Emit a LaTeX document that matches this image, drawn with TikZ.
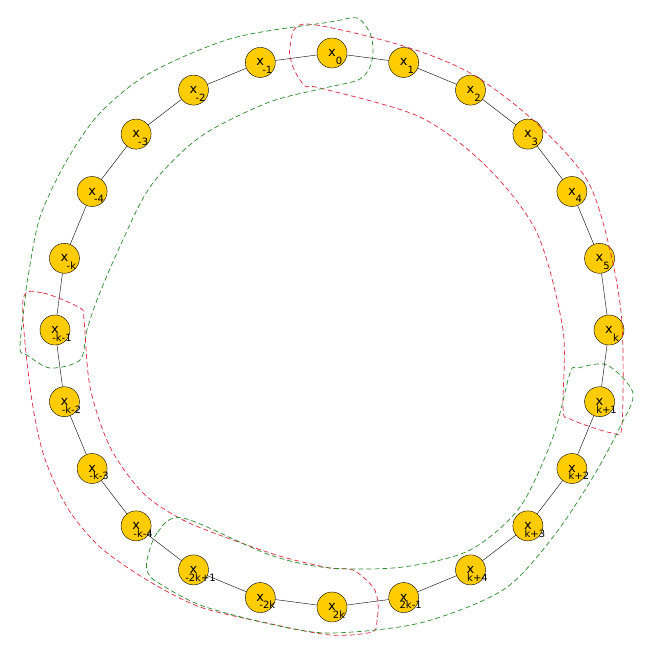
\documentclass[tikz,border=0pt]{standalone}
\usepackage{fontspec}
\setmainfont{DejaVu Sans}
\usepackage{xcolor}
\usetikzlibrary{positioning}
\definecolor{gold}{RGB}{255,204,0}
\definecolor{hullred}{RGB}{225,40,60}
\definecolor{hullgreen}{RGB}{40,140,40}
\newcommand{\xsub}[1]{\makebox[0pt]{x}\raisebox{-0.6em}[0pt][0pt]{\makebox[0pt]{\hspace{14pt}\fontsize{10}{10}\selectfont #1}}}

\begin{document}
\begin{tikzpicture}[x=1pt,y=-1pt,v/.style={circle,draw,fill=gold,minimum size=30pt,inner sep=0pt,font=\fontsize{13}{13}\selectfont},hull/.style={dash pattern=on 5pt off 3pt,line width=0.7pt}]
\useasboundingbox (0,0) rectangle (652,652);
\foreach \s [count=\i from 0] in {0,1,2,3,4,5,k,k+1,k+2,k+3,k+4,2k-1,2k,-2k,-2k+1,-k-4,-k-3,-k-2,-k-1,-k,-4,-3,-2,-1}
  \node[v] (n\i) at ([shift={(332,330)}]{-90+15*\i}:277) {\xsub{\s}};
\foreach \i [evaluate=\i as \j using {int(mod(\i+1,24))}] in {0,...,23}
  \draw (n\i) -- (n\j);
% groups
\draw[hull,hullred] plot[smooth cycle,tension=0.5] coordinates {(305,24) (400,45) (470,73) (533,120) (587,180) (610,250) (622,323) (622,425) (612,433) (570,419) (563,408) (563,330) (537,233) (487,167) (420,117) (320,88) (305,86) (293,67) (290,47)};
\draw[hull,hullgreen] plot[smooth cycle,tension=0.5] coordinates {(357,18) (370,33) (373,50) (370,67) (358,80) (320,89) (267,103) (200,137) (150,187) (117,253) (97,300) (87,330) (80,360) (50,368) (27,355) (20,348) (25,300) (28,277) (40,217) (67,160) (100,113) (150,73) (233,38) (330,22)};
\draw[hull,hullred] plot[smooth cycle,tension=0.5] coordinates {(23,300) (43,293) (80,308) (84,320) (90,387) (110,447) (143,493) (183,520) (233,540) (283,557) (330,568) (353,570) (373,587) (378,603) (377,620) (372,632) (330,635) (267,623) (200,607) (147,580) (100,547) (67,507) (43,453) (30,387)};
\draw[hull,hullgreen] plot[smooth cycle,tension=0.5] coordinates {(183,518) (157,533) (147,560) (148,573) (157,582) (200,605) (270,624) (330,633) (420,623) (503,590) (553,537) (593,477) (620,427) (633,393) (607,365) (578,368) (570,373) (553,437) (520,507) (470,550) (403,567) (330,568) (270,555)};
\end{tikzpicture}
\end{document}
